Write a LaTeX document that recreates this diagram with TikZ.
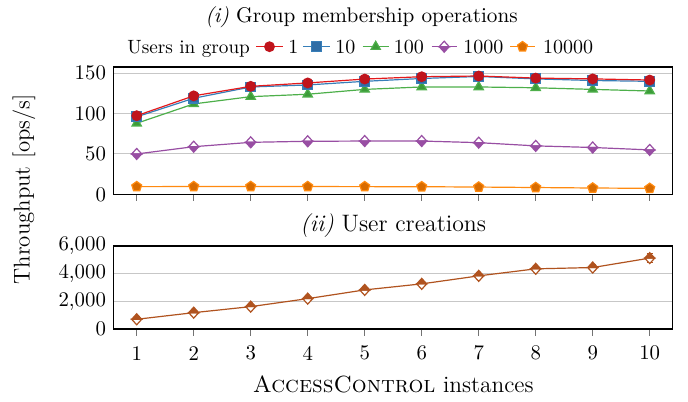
\documentclass[tikz,border=0pt]{standalone}
\usepackage{fontspec}
\usetikzlibrary{plotmarks}
\definecolor{cRed}{HTML}{E41A1C}
\definecolor{cRedM}{HTML}{C0141C}
\definecolor{cBlue}{HTML}{377EB8}
\definecolor{cBlueM}{HTML}{2F6DA6}
\definecolor{cGreen}{HTML}{4DAF4A}
\definecolor{cGreenM}{HTML}{3C9B39}
\definecolor{cPurple}{HTML}{984EA3}
\definecolor{cOrange}{HTML}{FF8A10}
\definecolor{cOrangeM}{HTML}{D96C00}
\definecolor{cBrown}{HTML}{B0531F}
\pgfdeclareplotmark{hdlow}{%
  \begin{pgfscope}
  \pgfsetfillcolor{white}
  \pgfpathmoveto{\pgfqpoint{-\pgfplotmarksize}{0pt}}
  \pgfpathlineto{\pgfqpoint{0pt}{1.1\pgfplotmarksize}}
  \pgfpathlineto{\pgfqpoint{\pgfplotmarksize}{0pt}}
  \pgfpathclose
  \pgfusepathqfillstroke
  \end{pgfscope}
  \pgfpathmoveto{\pgfqpoint{-\pgfplotmarksize}{0pt}}
  \pgfpathlineto{\pgfqpoint{0pt}{-1.1\pgfplotmarksize}}
  \pgfpathlineto{\pgfqpoint{\pgfplotmarksize}{0pt}}
  \pgfpathclose
  \pgfusepathqfillstroke
}
\pgfdeclareplotmark{hdup}{%
  \begin{pgfscope}
  \pgfsetfillcolor{white}
  \pgfpathmoveto{\pgfqpoint{-\pgfplotmarksize}{0pt}}
  \pgfpathlineto{\pgfqpoint{0pt}{-1.1\pgfplotmarksize}}
  \pgfpathlineto{\pgfqpoint{\pgfplotmarksize}{0pt}}
  \pgfpathclose
  \pgfusepathqfillstroke
  \end{pgfscope}
  \pgfpathmoveto{\pgfqpoint{-\pgfplotmarksize}{0pt}}
  \pgfpathlineto{\pgfqpoint{0pt}{1.1\pgfplotmarksize}}
  \pgfpathlineto{\pgfqpoint{\pgfplotmarksize}{0pt}}
  \pgfpathclose
  \pgfusepathqfillstroke
}
\tikzset{
  frame/.style={draw=black,line width=0.8pt},
  gridline/.style={draw=black!22,line width=0.5pt},
  tickmark/.style={draw=black!55,line width=0.5pt},
  ticklab/.style={inner sep=0pt,font=\fontsize{10.4}{12}\selectfont},
  legtext/.style={anchor=base west,inner sep=0pt,font=\fontsize{10}{12}\selectfont},
  serRed/.style={draw=cRed,line width=0.6pt,mark=*,mark size=2.4pt,mark options={fill=cRedM,draw=cRedM,solid}},
  serBlue/.style={draw=cBlue,line width=0.6pt,mark=square*,mark size=2.4pt,mark options={fill=cBlueM,draw=cBlue,solid}},
  serGreen/.style={draw=cGreen,line width=0.6pt,mark=triangle*,mark size=2.7pt,mark options={fill=cGreenM,draw=cGreen,solid}},
  serPurple/.style={draw=cPurple,line width=0.6pt,mark=hdlow,mark size=2.5pt,mark options={fill=cPurple,draw=cPurple,solid}},
  serOrange/.style={draw=cOrange,line width=0.6pt,mark=pentagon*,mark size=2.6pt,mark options={fill=cOrangeM,draw=cOrange,solid}},
  serBrown/.style={draw=cBrown,line width=0.6pt,mark=hdup,mark size=2.5pt,mark options={fill=cBrown,draw=cBrown,solid}},
  errbar/.style={draw=cBrown,line width=0.5pt},
}
\begin{document}
\begin{tikzpicture}[x=0.5pt,y=-0.5pt]
\useasboundingbox (0,0) rectangle (688,401);
% titles and labels
\node[anchor=base,font=\fontsize{10.6}{12}\selectfont] (t1) at (361.5,22.7) {\textit{(i)} Group membership operations};
\node[anchor=base,font=\fontsize{11.9}{14}\selectfont] (t2) at (393.3,231.7) {\textit{(ii)} User creations};
\node[anchor=base,font=\fontsize{11.7}{14}\selectfont] (xl) at (393.3,392.3) {\textsc{AccessControl} instances};
\node[rotate=90,font=\fontsize{11.4}{14}\selectfont] (yl) at (24,189.2) {Throughput [ops/s]};
% legend
\node[legtext,font=\fontsize{9.6}{12}\selectfont] (lg0) at (127,53.3) {Users in group};
\draw[serRed,mark=none] (256,46.7) -- (283,46.7);
\draw[serRed] plot coordinates {(269.5,46.7)};
\node[legtext] (lg1) at (288,53.3) {1};
\draw[serBlue,mark=none] (303,46.7) -- (330,46.7);
\draw[serBlue] plot coordinates {(316.5,46.7)};
\node[legtext] (lg2) at (335,53.3) {10};
\draw[serGreen,mark=none] (362.7,46.7) -- (388.7,46.7);
\draw[serGreen] plot coordinates {(375.7,46.7)};
\node[legtext] (lg3) at (393.5,53.3) {100};
\draw[serPurple,mark=none] (431.7,46.7) -- (456.7,46.7);
\draw[serPurple] plot coordinates {(444.2,46.7)};
\node[legtext] (lg4) at (463,53.3) {1000};
\draw[serOrange,mark=none] (510,46.7) -- (535,46.7);
\draw[serOrange] plot coordinates {(522.5,46.7)};
\node[legtext] (lg5) at (542.7,53.3) {10000};
% top axis
\begin{scope}[shift={(39.85pt,-97.15pt)},x=28.5pt,y=0.4035pt]
  \foreach \v in {50,100,150} \draw[gridline] (0.59,\v) -- (10.4,\v);
  \foreach \v in {0,50,100,150} \node[ticklab,anchor=east] (ta\v) at ([xshift=-3.5pt]0.59,\v) {\v};
  \foreach \i in {1,...,10} \draw[tickmark] (\i,0) -- ([yshift=-3.5pt]\i,0);
  \draw[serOrange] plot coordinates {(1,9.5)(2,9.6)(3,9.7)(4,9.6)(5,9.5)(6,9.4)(7,9)(8,8.4)(9,7.8)(10,7.4)};
  \draw[serPurple] plot coordinates {(1,50)(2,59)(3,64.4)(4,65.7)(5,66)(6,66)(7,64)(8,60)(9,58)(10,55)};
  \draw[serGreen] plot coordinates {(1,88)(2,112)(3,121)(4,124)(5,130)(6,133)(7,133)(8,132)(9,130)(10,128)};
  \draw[serBlue] plot coordinates {(1,96)(2,119)(3,133)(4,135.5)(5,140)(6,143.5)(7,146)(8,143)(9,141)(10,140)};
  \draw[serRed] plot coordinates {(1,97.4)(2,122)(3,133.8)(4,138)(5,142.8)(6,145.7)(7,146.6)(8,144)(9,143)(10,141.6)};
  \draw[frame] (0.59,0) rectangle (10.4,157.4);
\end{scope}
% bottom axis
\begin{scope}[shift={(39.85pt,-164.35pt)},x=28.5pt,y=0.006892pt]
  \foreach \v in {2000,4000} \draw[gridline] (0.59,\v) -- (10.4,\v);
  \node[ticklab,anchor=east] (tb0) at ([xshift=-3.5pt]0.59,0) {0};
  \node[ticklab,anchor=east] (tb1) at ([xshift=-3.5pt]0.59,2000) {2,000};
  \node[ticklab,anchor=east] (tb2) at ([xshift=-3.5pt]0.59,4000) {4,000};
  \node[ticklab,anchor=east] (tb3) at ([xshift=-3.5pt]0.59,6000) {6,000};
  \foreach \i in {1,...,10} {
    \draw[tickmark] (\i,0) -- ([yshift=-3.5pt]\i,0);
    \node[ticklab] (tx\i) at ([yshift=-12.2pt]\i,0) {\i};
  }
  \draw[errbar] (8,4140) -- (8,4540) (7.95,4140) -- (8.05,4140) (7.95,4540) -- (8.05,4540);
  \draw[errbar] (9,4185) -- (9,4685) (8.95,4185) -- (9.05,4185) (8.95,4685) -- (9.05,4685);
  \draw[errbar] (10,4818) -- (10,5418) (9.95,4818) -- (10.05,4818) (9.95,5418) -- (10.05,5418);
  \draw[serBrown] plot coordinates {(1,683)(2,1163)(3,1600)(4,2180)(5,2813)(6,3250)(7,3830)(8,4340)(9,4435)(10,5118)};
  \draw[frame] (0.59,0) rectangle (10.4,6000);
\end{scope}
\end{tikzpicture}
\end{document}
